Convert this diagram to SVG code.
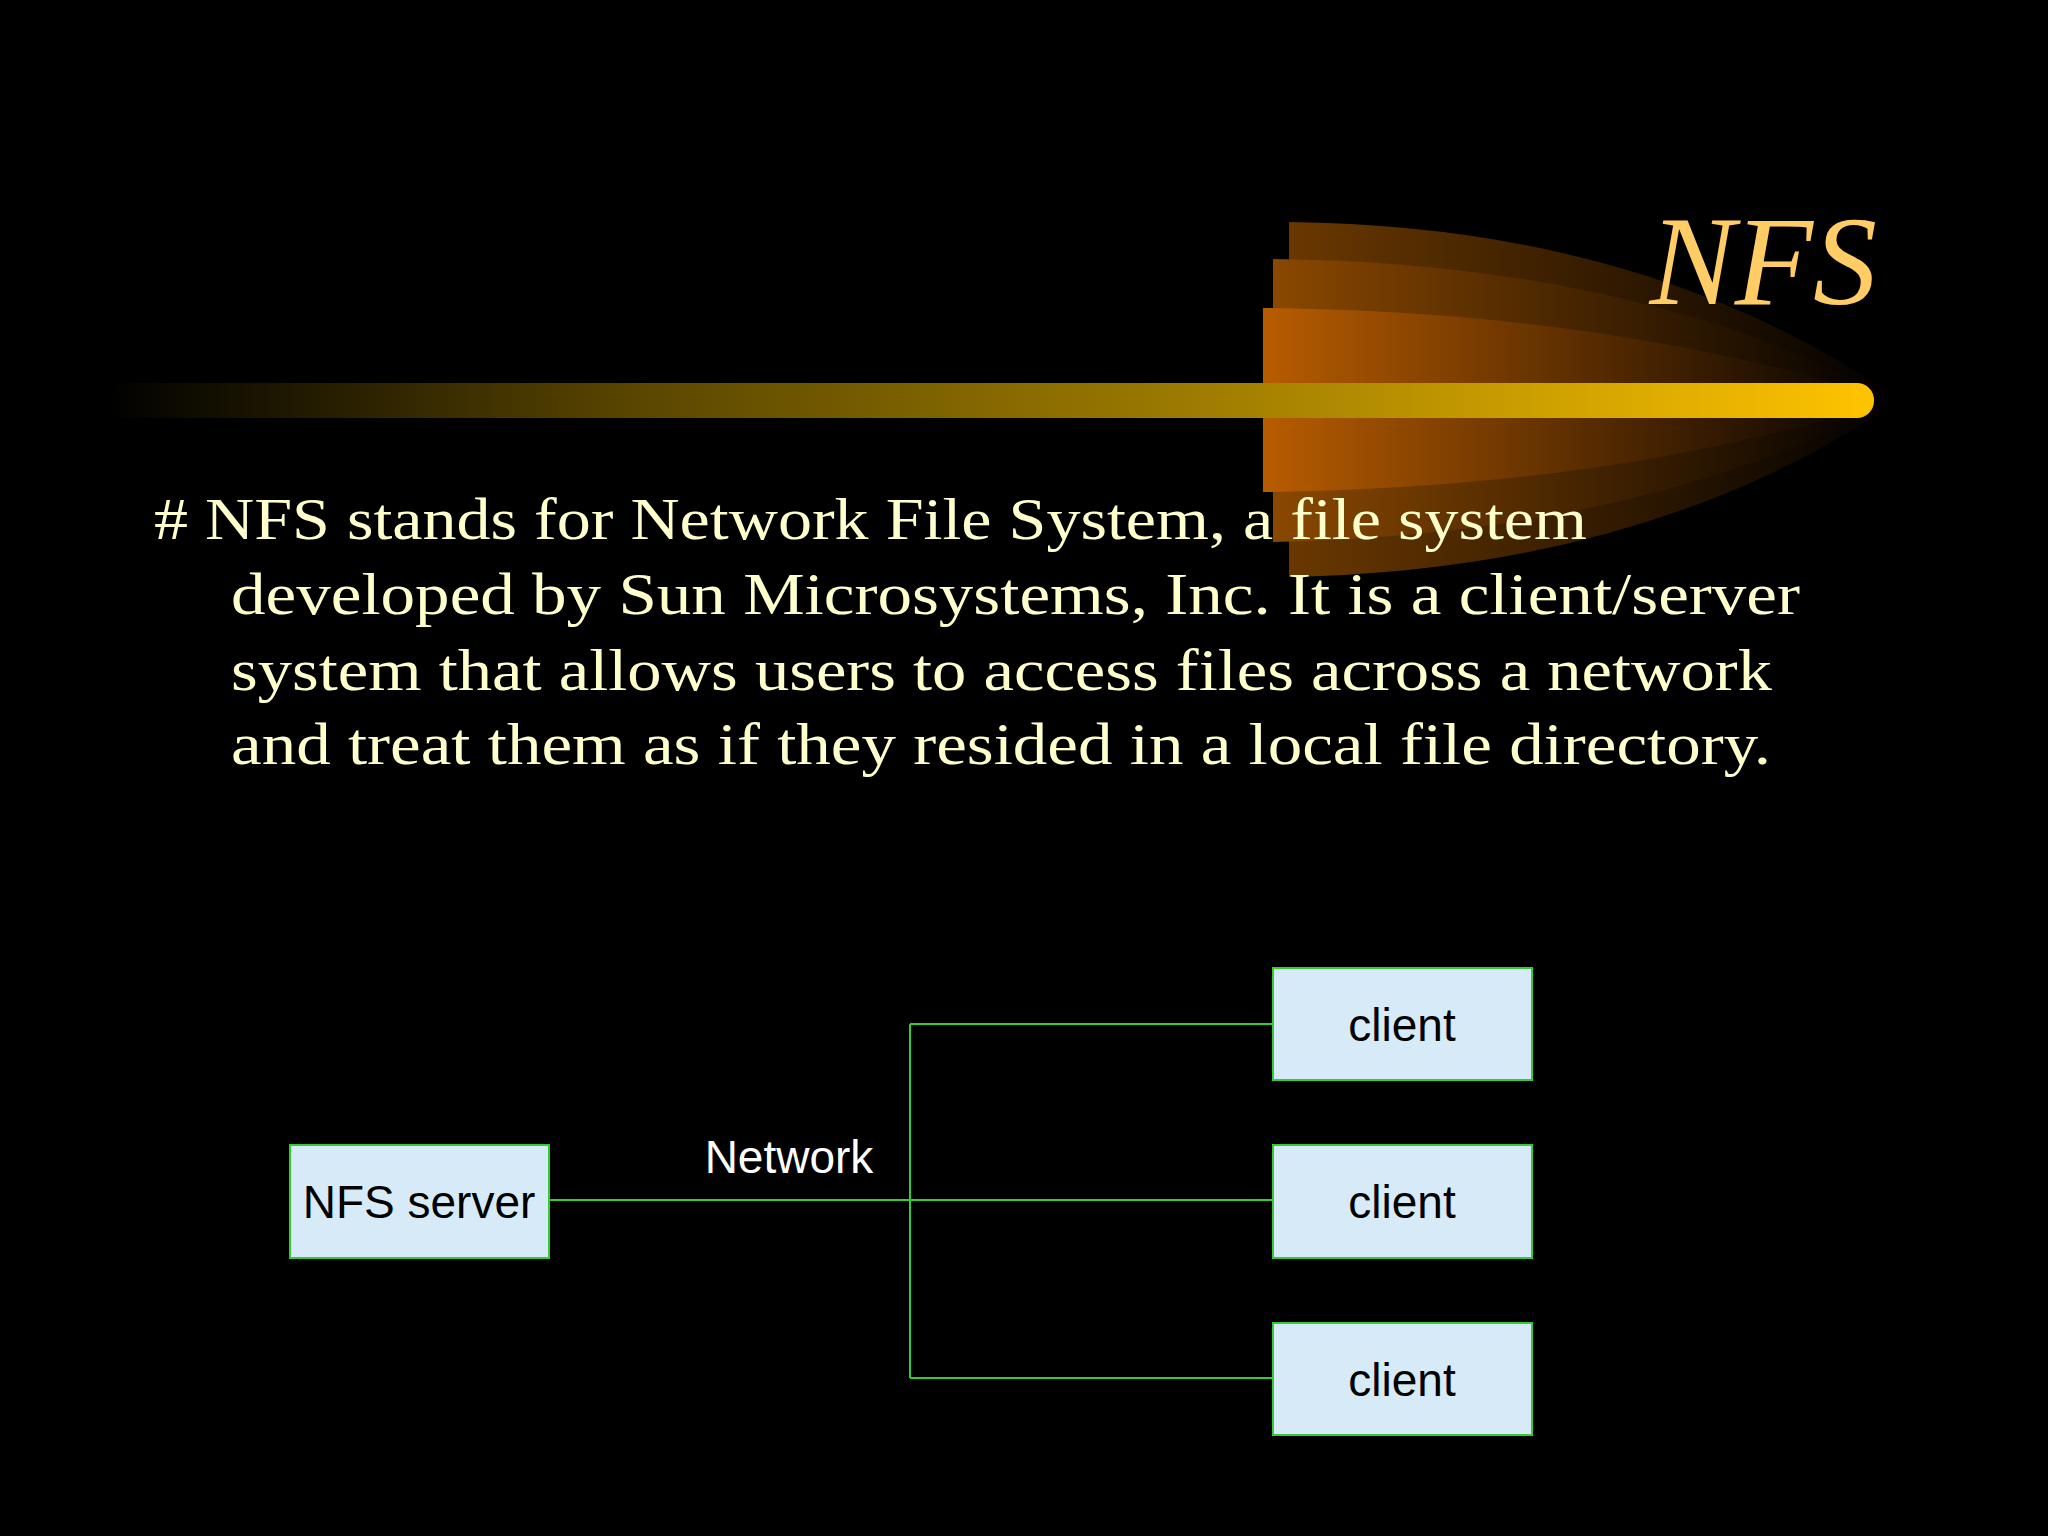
<svg xmlns="http://www.w3.org/2000/svg" width="2048" height="1536" viewBox="0 0 2048 1536">
<defs>
<linearGradient id="b1" x1="0" x2="1" y1="0" y2="0"><stop offset="0" stop-color="#6a3800"/><stop offset="1" stop-color="#000"/></linearGradient>
<linearGradient id="b2" x1="0" x2="1" y1="0" y2="0"><stop offset="0" stop-color="#8a4800"/><stop offset="1" stop-color="#000"/></linearGradient>
<linearGradient id="b3" x1="0" x2="1" y1="0" y2="0"><stop offset="0" stop-color="#b85c00"/><stop offset="1" stop-color="#000"/></linearGradient>
<linearGradient id="bar" x1="0" x2="1" y1="0" y2="0"><stop offset="0" stop-color="#000"/><stop offset="0.3" stop-color="#5a4600"/><stop offset="0.7" stop-color="#b08a00"/><stop offset="1" stop-color="#ffc400"/></linearGradient>
<style>
.box{fill:#d6ebf7;stroke:#33cc33;stroke-width:2}
.lbl{font-family:"Liberation Sans",Arial,sans-serif;font-size:46px;fill:#000;text-anchor:middle}
.body{font-family:"Liberation Serif","Times New Roman",serif;font-size:60px;fill:#ffffcc}
.conn{stroke:#33cc33;stroke-width:2;fill:none}
</style>
</defs>
<rect width="2048" height="1536" fill="#000"/>
<g id="decor">
<path d="M1289,222 Q1650,226 1900,400 Q1650,570 1289,577 Z" fill="url(#b1)"/>
<path d="M1273,259 Q1640,263 1895,400 Q1640,535 1273,542 Z" fill="url(#b2)"/>
<path d="M1263,308 Q1620,312 1890,400 Q1620,488 1263,492 Z" fill="url(#b3)"/>
<rect x="105" y="383" width="1769" height="35" rx="17" fill="url(#bar)"/>
</g>
<text id="title" x="1877" y="304" text-anchor="end" font-family="Liberation Serif,serif" font-style="italic" font-size="128" fill="#ffcc66">NFS</text>
<g id="body" class="body">
<text x="154" y="539" textLength="1433" lengthAdjust="spacingAndGlyphs"># NFS stands for Network File System, a file system</text>
<text x="231" y="614" textLength="1569" lengthAdjust="spacingAndGlyphs">developed by Sun Microsystems, Inc. It is a client/server</text>
<text x="231" y="690" textLength="1541" lengthAdjust="spacingAndGlyphs">system that allows users to access files across a network</text>
<text x="231" y="764" textLength="1540" lengthAdjust="spacingAndGlyphs">and treat them as if they resided in a local file directory.</text>
</g>
<g id="connectors" class="conn">
<path d="M549,1200 H1273"/>
<path d="M910,1024 V1378"/>
<path d="M910,1024 H1273"/>
<path d="M910,1378 H1273"/>
</g>
<text id="network" x="789" y="1173" text-anchor="middle" font-family="Liberation Sans,Arial,sans-serif" font-size="46" fill="#ffffff">Network</text>
<g id="server"><rect class="box" x="290" y="1145" width="259" height="113"/><text class="lbl" x="419" y="1218">NFS server</text></g>
<g id="client1"><rect class="box" x="1273" y="968" width="259" height="112"/><text class="lbl" x="1402" y="1041">client</text></g>
<g id="client2"><rect class="box" x="1273" y="1145" width="259" height="113"/><text class="lbl" x="1402" y="1218">client</text></g>
<g id="client3"><rect class="box" x="1273" y="1323" width="259" height="112"/><text class="lbl" x="1402" y="1396">client</text></g>
</svg>
